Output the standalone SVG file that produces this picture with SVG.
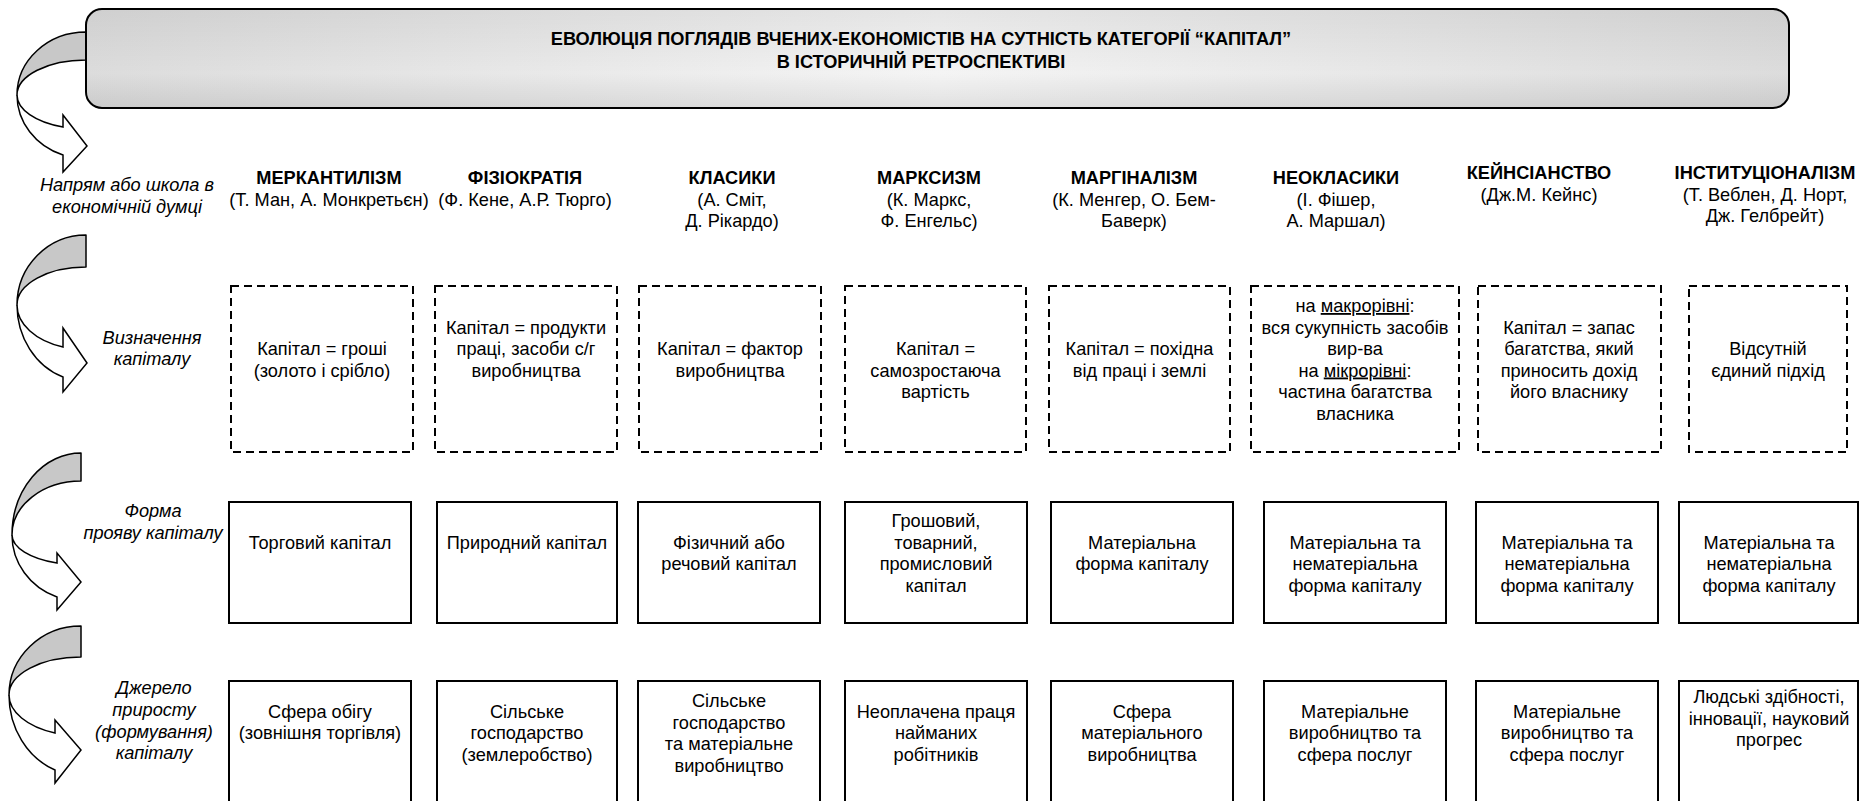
<svg xmlns="http://www.w3.org/2000/svg" width="1860" height="801" viewBox="0 0 1860 801">
<defs>
<linearGradient id="gh" x1="0" y1="0" x2="1" y2="0">
<stop offset="0" stop-color="#dcdcdc"/>
<stop offset="0.5" stop-color="#f4f4f4"/>
<stop offset="1" stop-color="#dcdcdc"/>
</linearGradient>
<linearGradient id="gv" x1="0" y1="0" x2="0" y2="1">
<stop offset="0" stop-color="#000" stop-opacity="0.06"/>
<stop offset="0.65" stop-color="#000" stop-opacity="0"/>
<stop offset="1" stop-color="#000" stop-opacity="0.08"/>
</linearGradient>
<style>
.t{font-family:"Liberation Sans",Arial,sans-serif;font-size:18.2px;text-anchor:middle;fill:#000}
.b{font-weight:bold}
.i{font-style:italic}
.u{text-decoration:underline}
.dash{fill:#fff;stroke:#000;stroke-width:2;stroke-dasharray:8 5}
.box{fill:#fff;stroke:#000;stroke-width:2}
.ag{fill:#c8c8c8;stroke:#000;stroke-width:1.5;stroke-linejoin:round}
.aw{fill:#fff;stroke:#000;stroke-width:1.5;stroke-linejoin:miter}
</style>
</defs>
<rect width="1860" height="801" fill="#fff"/>

<g id="connectors">
<path class="ag" d="M86,32 A69,63 0 0 0 17,95 A69,35 0 0 1 86,60 Z"/>
<path class="aw" d="M17,95 A69,63.6 0 0 0 63,155 L63,172 L87,146 L63,115 L63,127 A69,34 0 0 1 17,95 Z"/>
<path class="ag" d="M86,235 A69,70 0 0 0 17,305 A69,38 0 0 1 86,267 Z"/>
<path class="aw" d="M17,305 A69,76.4 0 0 0 63,377 L63,392 L87,363 L63,328 L63,347 A69,44.5 0 0 1 17,305 Z"/>
<path class="ag" d="M81,453 A69,82 0 0 0 12,535 A69,54 0 0 1 81,481 Z"/>
<path class="aw" d="M12,535 A69,66 0 0 0 57,597 L57,610 L81,582 L57,553 L57,563 A69,30 0 0 1 12,535 Z"/>
<path class="ag" d="M81,626 A72,69 0 0 0 9,695 A72,38 0 0 1 81,657 Z"/>
<path class="aw" d="M9,695 A72,80.4 0 0 0 55,770 L55,783 L81,750 L55,720 L55,733 A72,40.7 0 0 1 9,695 Z"/>
</g>

<g id="title">
<rect x="86" y="9" width="1703" height="99" rx="16" fill="url(#gh)"/>
<rect x="86" y="9" width="1703" height="99" rx="16" fill="url(#gv)" stroke="#000" stroke-width="2"/>
<text class="t b" x="921" y="45">ЕВОЛЮЦІЯ ПОГЛЯДІВ ВЧЕНИХ-ЕКОНОМІСТІВ НА СУТНІСТЬ КАТЕГОРІЇ “КАПІТАЛ”</text>
<text class="t b" x="921" y="68">В ІСТОРИЧНІЙ РЕТРОСПЕКТИВІ</text>
</g>

<g id="label-school">
<text class="t i" x="127" y="191">Напрям або школа в</text>
<text class="t i" x="127" y="212.5">економічній думці</text>
</g>
<g id="label-definition">
<text class="t i" x="152" y="343.5">Визначення</text>
<text class="t i" x="152" y="365">капіталу</text>
</g>
<g id="label-form">
<text class="t i" x="153" y="517">Форма</text>
<text class="t i" x="153" y="539">прояву капіталу</text>
</g>
<g id="label-source">
<text class="t i" x="154" y="694">Джерело</text>
<text class="t i" x="154" y="716">приросту</text>
<text class="t i" x="154" y="737.5">(формування)</text>
<text class="t i" x="154" y="759">капіталу</text>
</g>

<g id="head-1">
<text class="t b" x="329" y="184">МЕРКАНТИЛІЗМ</text>
<text class="t" x="329" y="205.5">(Т. Ман, А. Монкретьєн)</text>
</g>
<g id="head-2">
<text class="t b" x="525" y="184">ФІЗІОКРАТІЯ</text>
<text class="t" x="525" y="205.5">(Ф. Кене, А.Р. Тюрго)</text>
</g>
<g id="head-3">
<text class="t b" x="732" y="184">КЛАСИКИ</text>
<text class="t" x="732" y="205.5">(А. Сміт,</text>
<text class="t" x="732" y="227">Д. Рікардо)</text>
</g>
<g id="head-4">
<text class="t b" x="929" y="184">МАРКСИЗМ</text>
<text class="t" x="929" y="205.5">(К. Маркс,</text>
<text class="t" x="929" y="227">Ф. Енгельс)</text>
</g>
<g id="head-5">
<text class="t b" x="1134" y="184">МАРГІНАЛІЗМ</text>
<text class="t" x="1134" y="205.5">(К. Менгер, О. Бем-</text>
<text class="t" x="1134" y="227">Баверк)</text>
</g>
<g id="head-6">
<text class="t b" x="1336" y="184">НЕОКЛАСИКИ</text>
<text class="t" x="1336" y="205.5">(І. Фішер,</text>
<text class="t" x="1336" y="227">А. Маршал)</text>
</g>
<g id="head-7">
<text class="t b" x="1539" y="179">КЕЙНСІАНСТВО</text>
<text class="t" x="1539" y="200.5">(Дж.М. Кейнс)</text>
</g>
<g id="head-8">
<text class="t b" x="1765" y="179">ІНСТИТУЦІОНАЛІЗМ</text>
<text class="t" x="1765" y="200.5">(Т. Веблен, Д. Норт,</text>
<text class="t" x="1765" y="222">Дж. Гелбрейт)</text>
</g>

<g id="def-1">
<rect class="dash" x="231" y="286" width="182" height="166"/>
<text class="t" x="322" y="355">Капітал = гроші</text>
<text class="t" x="322" y="376.5">(золото і срібло)</text>
</g>
<g id="def-2">
<rect class="dash" x="435" y="286" width="182" height="166"/>
<text class="t" x="526" y="333.5">Капітал = продукти</text>
<text class="t" x="526" y="355">праці, засоби с/г</text>
<text class="t" x="526" y="376.5">виробництва</text>
</g>
<g id="def-3">
<rect class="dash" x="639" y="286" width="182" height="166"/>
<text class="t" x="730" y="355">Капітал = фактор</text>
<text class="t" x="730" y="376.5">виробництва</text>
</g>
<g id="def-4">
<rect class="dash" x="845" y="286" width="181" height="166"/>
<text class="t" x="935.5" y="355">Капітал =</text>
<text class="t" x="935.5" y="376.5">самозростаюча</text>
<text class="t" x="935.5" y="398">вартість</text>
</g>
<g id="def-5">
<rect class="dash" x="1049" y="286" width="181" height="166"/>
<text class="t" x="1139.5" y="355">Капітал = похідна</text>
<text class="t" x="1139.5" y="376.5">від праці і землі</text>
</g>
<g id="def-6">
<rect class="dash" x="1251" y="286" width="208" height="166"/>
<text class="t" x="1355" y="312">на <tspan class="u">макрорівні</tspan>:</text>
<text class="t" x="1355" y="333.5">вся сукупність засобів</text>
<text class="t" x="1355" y="355">вир-ва</text>
<text class="t" x="1355" y="376.5">на <tspan class="u">мікрорівні</tspan>:</text>
<text class="t" x="1355" y="398">частина багатства</text>
<text class="t" x="1355" y="419.5">власника</text>
</g>
<g id="def-7">
<rect class="dash" x="1478" y="286" width="183" height="166"/>
<text class="t" x="1569" y="333.5">Капітал = запас</text>
<text class="t" x="1569" y="355">багатства, який</text>
<text class="t" x="1569" y="376.5">приносить дохід</text>
<text class="t" x="1569" y="398">його власнику</text>
</g>
<g id="def-8">
<rect class="dash" x="1689" y="286" width="158" height="166"/>
<text class="t" x="1768" y="355">Відсутній</text>
<text class="t" x="1768" y="376.5">єдиний підхід</text>
</g>

<g id="form-1">
<rect class="box" x="229" y="502" width="182" height="121"/>
<text class="t" x="320" y="548.5">Торговий капітал</text>
</g>
<g id="form-2">
<rect class="box" x="437" y="502" width="180" height="121"/>
<text class="t" x="527" y="548.5">Природний капітал</text>
</g>
<g id="form-3">
<rect class="box" x="638" y="502" width="182" height="121"/>
<text class="t" x="729" y="548.5">Фізичний або</text>
<text class="t" x="729" y="570">речовий капітал</text>
</g>
<g id="form-4">
<rect class="box" x="845" y="502" width="182" height="121"/>
<text class="t" x="936" y="527">Грошовий,</text>
<text class="t" x="936" y="548.5">товарний,</text>
<text class="t" x="936" y="570">промисловий</text>
<text class="t" x="936" y="591.5">капітал</text>
</g>
<g id="form-5">
<rect class="box" x="1051" y="502" width="182" height="121"/>
<text class="t" x="1142" y="548.5">Матеріальна</text>
<text class="t" x="1142" y="570">форма капіталу</text>
</g>
<g id="form-6">
<rect class="box" x="1264" y="502" width="182" height="121"/>
<text class="t" x="1355" y="548.5">Матеріальна та</text>
<text class="t" x="1355" y="570">нематеріальна</text>
<text class="t" x="1355" y="591.5">форма капіталу</text>
</g>
<g id="form-7">
<rect class="box" x="1476" y="502" width="182" height="121"/>
<text class="t" x="1567" y="548.5">Матеріальна та</text>
<text class="t" x="1567" y="570">нематеріальна</text>
<text class="t" x="1567" y="591.5">форма капіталу</text>
</g>
<g id="form-8">
<rect class="box" x="1679" y="502" width="179" height="121"/>
<text class="t" x="1769" y="548.5">Матеріальна та</text>
<text class="t" x="1769" y="570">нематеріальна</text>
<text class="t" x="1769" y="591.5">форма капіталу</text>
</g>

<g id="source-1">
<rect class="box" x="229" y="681" width="182" height="130"/>
<text class="t" x="320" y="717.5">Сфера обігу</text>
<text class="t" x="320" y="739">(зовнішня торгівля)</text>
</g>
<g id="source-2">
<rect class="box" x="437" y="681" width="180" height="130"/>
<text class="t" x="527" y="717.5">Сільське</text>
<text class="t" x="527" y="739">господарство</text>
<text class="t" x="527" y="760.5">(землеробство)</text>
</g>
<g id="source-3">
<rect class="box" x="638" y="681" width="182" height="130"/>
<text class="t" x="729" y="707">Сільське</text>
<text class="t" x="729" y="728.5">господарство</text>
<text class="t" x="729" y="750">та матеріальне</text>
<text class="t" x="729" y="771.5">виробництво</text>
</g>
<g id="source-4">
<rect class="box" x="845" y="681" width="182" height="130"/>
<text class="t" x="936" y="717.5">Неоплачена праця</text>
<text class="t" x="936" y="739">найманих</text>
<text class="t" x="936" y="760.5">робітників</text>
</g>
<g id="source-5">
<rect class="box" x="1051" y="681" width="182" height="130"/>
<text class="t" x="1142" y="717.5">Сфера</text>
<text class="t" x="1142" y="739">матеріального</text>
<text class="t" x="1142" y="760.5">виробництва</text>
</g>
<g id="source-6">
<rect class="box" x="1264" y="681" width="182" height="130"/>
<text class="t" x="1355" y="717.5">Матеріальне</text>
<text class="t" x="1355" y="739">виробництво та</text>
<text class="t" x="1355" y="760.5">сфера послуг</text>
</g>
<g id="source-7">
<rect class="box" x="1476" y="681" width="182" height="130"/>
<text class="t" x="1567" y="717.5">Матеріальне</text>
<text class="t" x="1567" y="739">виробництво та</text>
<text class="t" x="1567" y="760.5">сфера послуг</text>
</g>
<g id="source-8">
<rect class="box" x="1679" y="681" width="179" height="130"/>
<text class="t" x="1769" y="703">Людські здібності,</text>
<text class="t" x="1769" y="724.5">інновації, науковий</text>
<text class="t" x="1769" y="746">прогрес</text>
</g>
</svg>
